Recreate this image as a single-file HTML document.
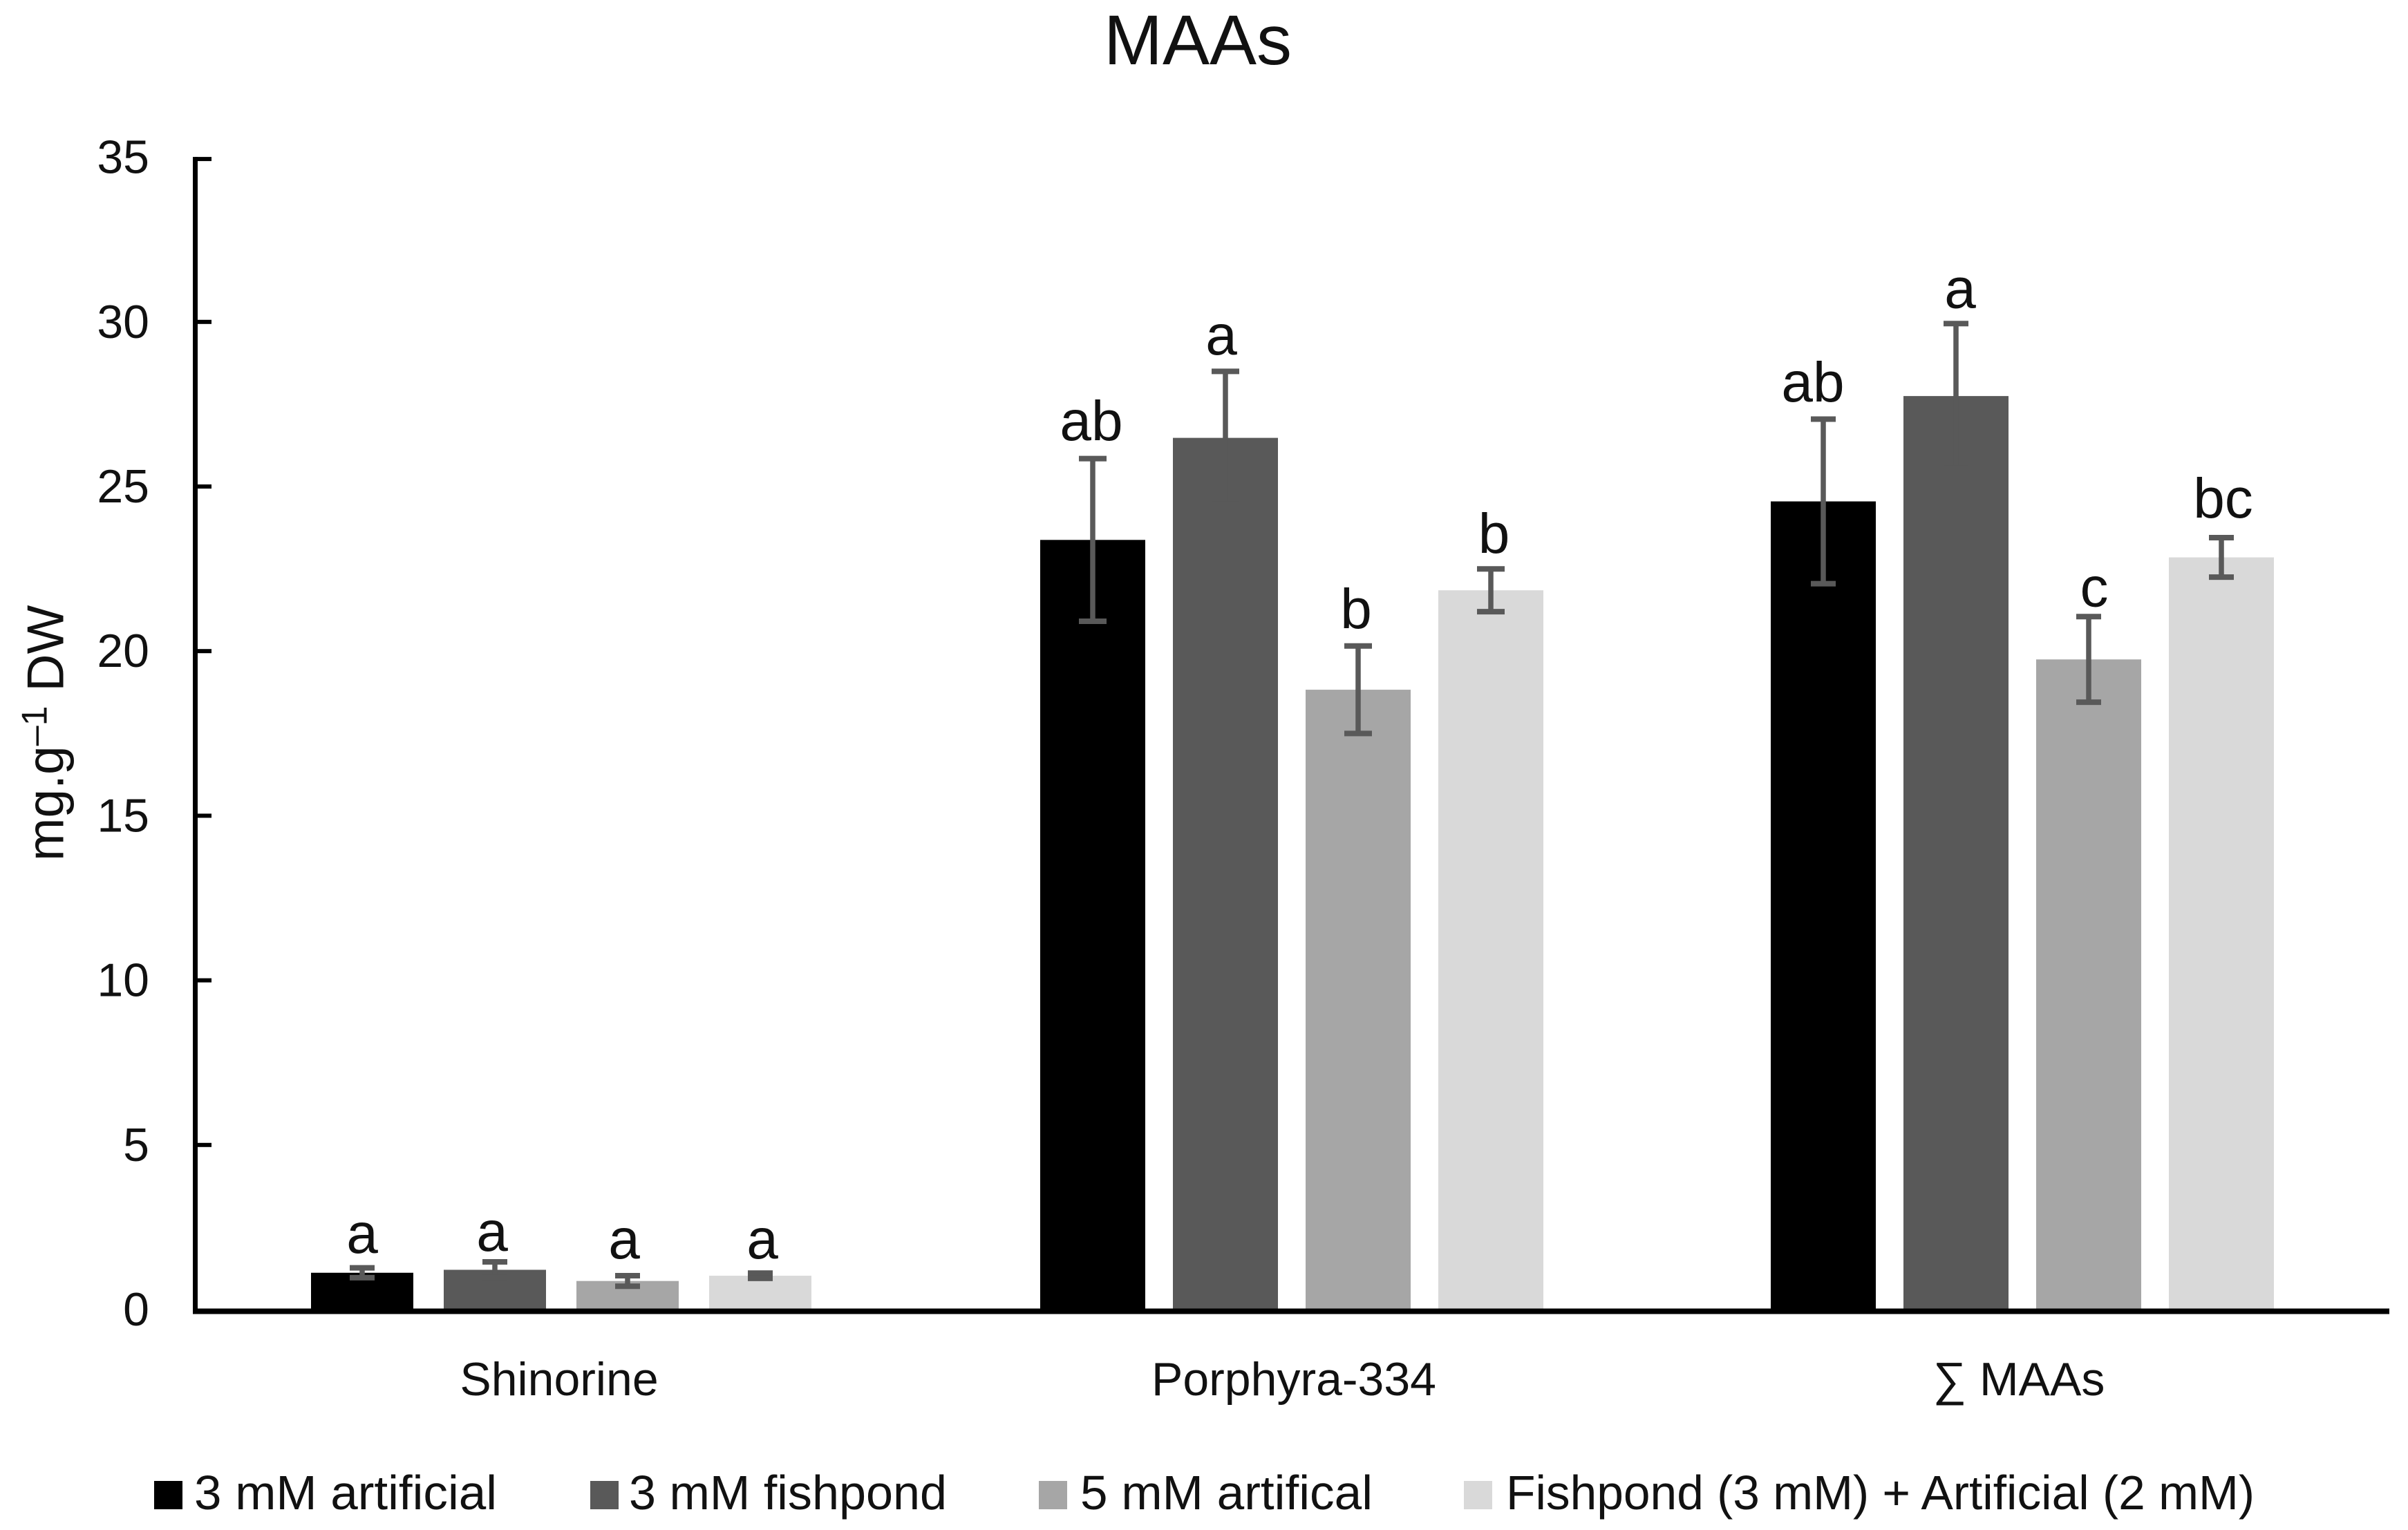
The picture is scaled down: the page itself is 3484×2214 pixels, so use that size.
<!DOCTYPE html>
<html lang="en">
<head>
<meta charset="utf-8">
<title>MAAs</title>
<style>
html,body{margin:0;padding:0;background:#fff;width:3484px;height:2214px;overflow:hidden}
svg{display:block}
text{font-family:"Liberation Sans",sans-serif;fill:#111}
</style>
</head>
<body>
<svg id="chart" xmlns="http://www.w3.org/2000/svg" width="3484" height="2214" viewBox="0 0 3484 2214">
<rect x="0" y="0" width="3484" height="2214" fill="#ffffff"/>
<text x="1733" y="93" font-size="102" text-anchor="middle" textLength="272" lengthAdjust="spacingAndGlyphs">MAAs</text>
<text transform="translate(91.5 1246) rotate(-90)" font-size="75">mg.g<tspan font-size="52" dy="-24">–1</tspan><tspan dy="24"> DW</tspan></text>
<g id="bars"></g>
<g id="errors"></g>
<g id="letters"></g>
<g id="axes"></g>
<g id="legend"></g>
</svg>
<script>
const categories = ["Shinorine", "Porphyra-334", "∑ MAAs"];
const seriesNames = ["3 mM artificial", "3 mM fishpond", "5 mM artifical", "Fishpond (3 mM) + Artificial (2 mM)"];
const yTicks = [0, 5, 10, 15, 20, 25, 30, 35];
const artificial3 = [1.17, 23.43, 24.6];
const fishpond3 = [1.26, 26.53, 27.8];
const artificial5 = [0.92, 18.88, 19.8];
const mixed = [1.08, 21.9, 22.9];
const artificial3Err = [0.15, 2.47, 2.5];
const fishpond3Err = [0.24, 2.02, 2.2];
const artificial5Err = [0.16, 1.33, 1.3];
const mixedErr = [0.08, 0.65, 0.6];
const artificial3Letters = ["a", "ab", "ab"];
const fishpond3Letters = ["a", "a", "a"];
const artificial5Letters = ["a", "b", "c"];
const mixedLetters = ["a", "b", "bc"];

const seriesValues = [artificial3, fishpond3, artificial5, mixed];
const seriesErrors = [artificial3Err, fishpond3Err, artificial5Err, mixedErr];
const seriesLetters = [artificial3Letters, fishpond3Letters, artificial5Letters, mixedLetters];
const seriesColors = ["#000000", "#595959", "#a6a6a6", "#d9d9d9"];

const NS = "http://www.w3.org/2000/svg";
const Y_ZERO = 1897.5, PX_PER_UNIT = 47.64;
const X_START = 283.5, GROUP_STEP = 1057, BAR_STEP = 192;
const yScale = v => Y_ZERO - v * PX_PER_UNIT;
const groupCenter = i => X_START + GROUP_STEP * (i + 0.5);
const barCenter = (g, s) => groupCenter(g) + (s - 1.5) * BAR_STEP;
const barWidth = g => (g === 0 ? 148 : 152);
const capHalf = g => (g === 1 ? 20 : 18);

/* layout nudges for hand-placed annotations, relative to the error-bar top */
const letterShiftX = [[0, -2, -15], [-4, -6, 6], [-5, -3, 8], [3, 4.5, 2.5]];
const letterGap = [[21.6, 26.6, 25.5], [16, 24.4, 23], [25, 25.7, 15], [21, 23, 29]];
const categoryShiftX = [-3, 3, -5];

function make(tag, attrs, parent, txt) {
  const el = document.createElementNS(NS, tag);
  for (const k in attrs) el.setAttribute(k, attrs[k]);
  if (txt !== undefined) el.textContent = txt;
  parent.appendChild(el);
  return el;
}
const barsG = document.getElementById("bars");
const errG = document.getElementById("errors");
const letG = document.getElementById("letters");
const axG = document.getElementById("axes");
const legG = document.getElementById("legend");

categories.forEach((cat, g) => {
  seriesValues.forEach((vals, s) => {
    const cx = barCenter(g, s), top = yScale(vals[g]), w = barWidth(g);
    const bar = make("rect", {x: cx - w / 2, y: top, width: w, height: Y_ZERO - top, fill: seriesColors[s]}, barsG);
    
    

    const e = seriesErrors[s][g];
    const hi = yScale(vals[g] + e), lo = yScale(vals[g] - e), ch = capHalf(g);
    const stem = make("line", {x1: cx, x2: cx, y1: hi, y2: lo, stroke: "#595959", "stroke-width": 7.5}, errG);
    
    
    const capTop = make("line", {x1: cx - ch, x2: cx + ch, y1: hi, y2: hi, stroke: "#595959", "stroke-width": 8}, errG);
    
    
    const capLow = make("line", {x1: cx - ch, x2: cx + ch, y1: lo, y2: lo, stroke: "#595959", "stroke-width": 8}, errG);
    
    

    const lab = make("text", {x: cx + letterShiftX[s][g], y: hi - letterGap[s][g], "font-size": 82, "text-anchor": "middle"}, letG, seriesLetters[s][g]);
    
    
  });
  const xl = make("text", {x: groupCenter(g) + categoryShiftX[g], y: 2019, "font-size": 68, "text-anchor": "middle"}, axG, cat);
  
  
});

const yAxisLine = make("rect", {x: 279, y: yScale(35) - 3, width: 7, height: Y_ZERO - yScale(35) + 7, fill: "#000"}, axG);


const xAxisLine = make("rect", {x: 279, y: Y_ZERO - 4, width: 3178, height: 8, fill: "#000"}, axG);



yTicks.forEach(t => {
  const y = yScale(t);
  const markY = (t > 0 && t < 35) ? y - 2.5 : y;
  const mark = make("rect", {x: 282, y: markY - 3, width: 24, height: 6, fill: "#000"}, axG);
  
  
  const lab = make("text", {x: 216, y: y + 20.5, "font-size": 68, "text-anchor": "end"}, axG, String(t));
  
  
});

const legendSwatchX = [223, 854, 1503, 2118];
const legendTextX = [281, 910, 1563, 2179];
const legendTextW = [438, 460, 423, 1083];
seriesNames.forEach((name, s) => {
  const sw = make("rect", {x: legendSwatchX[s], y: 2143, width: 41, height: 41, fill: seriesColors[s]}, legG);
  
  
  const tx = make("text", {x: legendTextX[s], y: 2184, "font-size": 70, textLength: legendTextW[s], lengthAdjust: "spacingAndGlyphs"}, legG, name);
  
  
});
</script>
</body>
</html>
